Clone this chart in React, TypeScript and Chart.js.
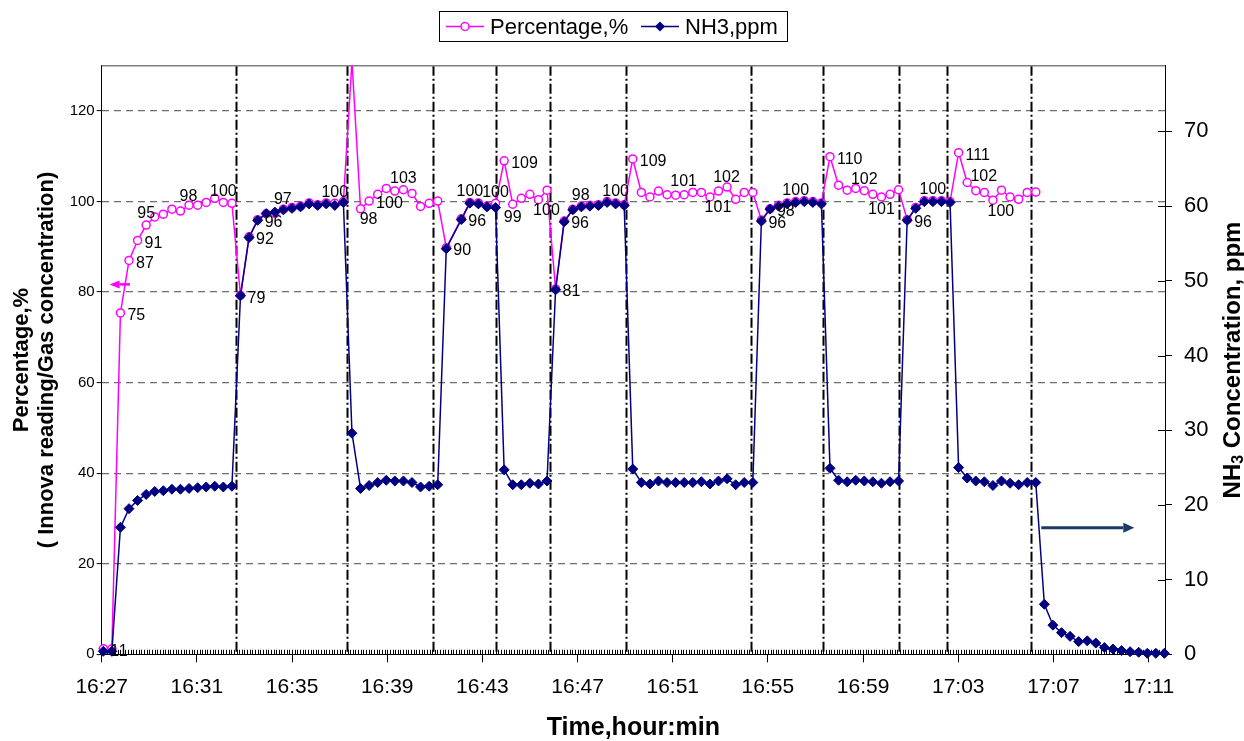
import React, { useEffect, useRef } from 'react';
import { Chart, registerables } from 'chart.js';

Chart.register(...registerables);

const FONT = '"Liberation Sans", Arial, Helvetica, sans-serif';

// ---- data ----
const X_TICK_LABELS = ['16:27', '16:31', '16:35', '16:39', '16:43', '16:47', '16:51', '16:55', '16:59', '17:03', '17:07', '17:11'];

// sampling grid (minutes after 16:27)
const SAMPLE_START_MIN = 0.067;
const SAMPLE_STEP_MIN = 0.3604;
const GAP_INDEX = 41;
const GAP_MIN = 0.269;

const PERCENTAGE: (number | null)[] = [
  1.2, 1.2, 75.4, 87.0, 91.4, 94.8, 96.6, 97.2, 98.3, 97.9, 99.2, 99.2, 99.8, 100.7, 99.8, 99.6,
  79.3, 92.2, 96.0, 97.3, 97.4, 98.3, 98.7, 99.0, 99.7, 99.3, 99.7, 99.6, 100.0,
  131.0, 98.4, 100.1, 101.6, 102.9, 102.3, 102.6, 101.8, 98.9, 99.6, 100.1,
  89.8, 96.2, 99.8, 99.7, 99.0, 99.6,
  109.0, 99.4, 100.7, 101.6, 100.4, 102.5,
  80.7, 95.7, 98.3, 99.0, 99.2, 99.3, 100.0, 99.7, 99.3,
  109.4, 102.0, 101.0, 102.3, 101.5, 101.4, 101.5, 102.0, 102.0, 101.0, 102.3, 103.2, 100.5, 102.0, 102.0,
  95.9, 98.4, 99.2, 99.7, 100.0, 100.2, 100.0, 99.7,
  109.9, 103.6, 102.5, 102.9, 102.4, 101.6, 101.0, 101.6, 102.6,
  96.0, 98.7, 100.2, 100.2, 100.2, 100.0,
  110.8, 104.2, 102.4, 102.0, 100.3, 102.5, 101.0, 100.5, 102.0, 102.1,
  null, null, null, null, null, null, null, null, null, null, null, null, null, null, null,
];

const NH3_PPM: number[] = [
  0.4, 0.4, 17.0, 19.5, 20.6, 21.4, 21.8, 21.9, 22.1, 22.1, 22.2, 22.3, 22.4, 22.5, 22.4, 22.5,
  48.0, 55.8, 58.1, 59.0, 59.2, 59.5, 59.7, 59.9, 60.3, 60.1, 60.3, 60.1, 60.5,
  29.6, 22.2, 22.6, 23.0, 23.3, 23.2, 23.2, 23.0, 22.4, 22.5, 22.7,
  54.3, 58.2, 60.4, 60.3, 59.9, 59.8,
  24.7, 22.7, 22.7, 22.9, 22.8, 23.2,
  48.8, 57.9, 59.5, 59.9, 60.0, 60.1, 60.5, 60.3, 60.1,
  24.8, 23.0, 22.8, 23.2, 23.0, 23.0, 23.0, 23.0, 23.1, 22.8, 23.2, 23.5, 22.7, 23.0, 23.0,
  58.0, 59.6, 60.0, 60.3, 60.5, 60.6, 60.5, 60.3,
  24.9, 23.3, 23.1, 23.3, 23.2, 23.1, 22.9, 23.1, 23.2,
  58.1, 59.7, 60.6, 60.6, 60.6, 60.5,
  25.0, 23.6, 23.2, 23.1, 22.6, 23.2, 22.9, 22.7, 23.0, 23.0,
  6.7, 3.9, 2.9, 2.4, 1.7, 1.8, 1.5, 0.9, 0.7, 0.5, 0.35, 0.27, 0.13, 0.13, 0.13,
];

// times of the gas switch events (minutes after 16:27)
const EVENT_TIMES_MIN = [5.64, 10.31, 13.93, 16.59, 18.83, 22.05, 27.27, 30.31, 33.53, 35.53, 39.06];

// which percentage points carry a value label, and where
const PCT_LABELS: [number, string][] = [
  [0, 'r'], [1, 'r'], [2, 'r'], [3, 'r'], [4, 'r'], [5, 't'], [9, 'tr'], [14, 't'],
  [16, 'r'], [17, 'r'], [18, 'r'], [20, 'tr'], [27, 't'],
  [30, 'br'], [31, 'r'], [35, 't'],
  [40, 'r'], [41, 'r'], [42, 't'], [45, 't'],
  [46, 'r'], [47, 'b'], [50, 'br'],
  [52, 'r'], [53, 'r'], [54, 'tr'], [59, 't'],
  [61, 'r'], [66, 'tr'], [70, 'br'], [71, 'tr'],
  [76, 'r'], [77, 'r'], [80, 't'],
  [84, 'r'], [88, 't'], [90, 'b'],
  [93, 'r'], [96, 't'],
  [99, 'r'], [101, 'tr'], [103, 'br'],
];

// ---- layout / style ----
const W = 1244;
const H = 741;
const AREA = { left: 101.7, right: 1165, top: 65.7, bottom: 654.3 };
const X_MAX = 44.69;
const Y_MAX = 130;
const Y1_MAX = 78.8;
const PINK = '#ff00ff';
const NAVY = '#000080';
const ARROW_BLUE = '#1b3a66';

const LABEL_POS: Record<string, { dx: number; dy: number; align: CanvasTextAlign }> = {
  r: { dx: 7, dy: 3, align: 'left' },
  t: { dx: 0, dy: -11, align: 'center' },
  b: { dx: 0, dy: 13, align: 'center' },
  tr: { dx: 8, dy: -14, align: 'center' },
  br: { dx: 8, dy: 11, align: 'center' },
};

function sampleTime(i: number): number {
  return SAMPLE_START_MIN + i * SAMPLE_STEP_MIN + (i >= GAP_INDEX ? GAP_MIN : 0);
}

function arrow(ctx: CanvasRenderingContext2D, x1: number, y: number, x2: number, color: string, lw: number, headLen: number, headHalf: number) {
  const dir = Math.sign(x2 - x1);
  ctx.save();
  ctx.strokeStyle = color;
  ctx.fillStyle = color;
  ctx.lineWidth = lw;
  ctx.beginPath();
  ctx.moveTo(x1, y);
  ctx.lineTo(x2 - dir * headLen, y);
  ctx.stroke();
  ctx.beginPath();
  ctx.moveTo(x2, y);
  ctx.lineTo(x2 - dir * headLen, y - headHalf);
  ctx.lineTo(x2 - dir * headLen, y + headHalf);
  ctx.closePath();
  ctx.fill();
  ctx.restore();
}

const decorPlugin = {
  id: 'decor',
  beforeDatasetsDraw(chart: any) {
    const { ctx, chartArea, scales } = chart;
    const xs = scales.x;
    ctx.save();
    // event lines (dash-dot)
    ctx.strokeStyle = '#000';
    ctx.lineWidth = 2;
    ctx.setLineDash([10, 3, 2, 3]);
    EVENT_TIMES_MIN.forEach((t) => {
      const x = Math.round(xs.getPixelForValue(t)) + 0.5;
      ctx.beginPath();
      ctx.moveTo(x, chartArea.top);
      ctx.lineTo(x, chartArea.bottom);
      ctx.stroke();
    });
    ctx.setLineDash([]);
    // top border
    ctx.strokeStyle = '#808080';
    ctx.lineWidth = 1.5;
    ctx.beginPath();
    ctx.moveTo(chartArea.left, chartArea.top);
    ctx.lineTo(chartArea.right, chartArea.top);
    ctx.stroke();
    // minor x ticks (inside)
    ctx.strokeStyle = '#000';
    ctx.lineWidth = 1;
    const minorStep = 4 / 36;
    for (let k = 0; k * minorStep <= X_MAX + 1e-9; k++) {
      const x = Math.round(xs.getPixelForValue(k * minorStep)) + 0.5;
      ctx.beginPath();
      ctx.moveTo(x, chartArea.bottom);
      ctx.lineTo(x, chartArea.bottom - 4.5);
      ctx.stroke();
    }
    // inner half of right axis cross ticks
    const y1 = scales.y1;
    for (let v = 0; v <= 70; v += 10) {
      const y = Math.round(y1.getPixelForValue(v)) + 0.5;
      ctx.beginPath();
      ctx.moveTo(chartArea.right - 7, y);
      ctx.lineTo(chartArea.right, y);
      ctx.stroke();
    }
    ctx.restore();
  },
  afterDatasetsDraw(chart: any) {
    const { ctx, scales } = chart;
    const meta = chart.getDatasetMeta(0);
    ctx.save();
    ctx.font = `16px ${FONT}`;
    ctx.fillStyle = '#000';
    ctx.textBaseline = 'middle';
    PCT_LABELS.forEach(([i, pos]) => {
      const v = PERCENTAGE[i];
      const el = meta.data[i];
      if (v === null || !el) return;
      const p = LABEL_POS[pos];
      ctx.textAlign = p.align;
      ctx.fillText(String(Math.round(v)), el.x + p.dx, el.y + p.dy);
    });
    ctx.restore();

    // arrows pointing to the axis each series belongs to
    const xs = scales.x;
    arrow(ctx, xs.getPixelForValue(1.19), scales.y.getPixelForValue(81.7), xs.getPixelForValue(0.33), PINK, 2.5, 10, 4);
    arrow(ctx, xs.getPixelForValue(39.49), scales.y1.getPixelForValue(16.95), xs.getPixelForValue(43.4), ARROW_BLUE, 3, 11, 5);
  },
  afterDraw(chart: any) {
    const { ctx, chartArea } = chart;
    const cy = (chartArea.top + chartArea.bottom) / 2;
    ctx.save();
    ctx.fillStyle = '#000';
    ctx.textBaseline = 'middle';
    ctx.textAlign = 'center';
    // left title (two lines)
    ctx.font = `bold 22px ${FONT}`;
    [['Percentage,%', 22], ['( Innova reading/Gas concentration)', 47]].forEach(([txt, x]) => {
      ctx.save();
      ctx.translate(x as number, cy);
      ctx.rotate(-Math.PI / 2);
      ctx.fillText(txt as string, 0, 0);
      ctx.restore();
    });
    // right title with subscript
    {
      const main = `bold 24px ${FONT}`;
      const sub = `bold 16px ${FONT}`;
      ctx.font = main;
      const w1 = ctx.measureText('NH').width;
      const w3 = ctx.measureText(' Concentration, ppm').width;
      ctx.font = sub;
      const w2 = ctx.measureText('3').width;
      const total = w1 + w2 + w3;
      ctx.save();
      ctx.translate(1233, cy);
      ctx.rotate(-Math.PI / 2);
      ctx.textAlign = 'left';
      let x = -total / 2;
      ctx.font = main;
      ctx.fillText('NH', x, 0);
      x += w1;
      ctx.font = sub;
      ctx.fillText('3', x, 6);
      x += w2;
      ctx.font = main;
      ctx.fillText(' Concentration, ppm', x, 0);
      ctx.restore();
    }
    // x title
    ctx.font = `bold 25px ${FONT}`;
    ctx.textAlign = 'center';
    ctx.fillText('Time,hour:min', (chartArea.left + chartArea.right) / 2, 728);

    // legend
    ctx.strokeStyle = '#000';
    ctx.lineWidth = 1;
    ctx.strokeRect(439.5, 11.5, 348, 30);
    const ly = 26.5;
    ctx.lineWidth = 1.5;
    ctx.strokeStyle = PINK;
    ctx.beginPath();
    ctx.moveTo(446, ly);
    ctx.lineTo(484, ly);
    ctx.stroke();
    ctx.beginPath();
    ctx.arc(465, ly, 4, 0, Math.PI * 2);
    ctx.fillStyle = '#fff';
    ctx.fill();
    ctx.stroke();
    ctx.strokeStyle = NAVY;
    ctx.fillStyle = NAVY;
    ctx.beginPath();
    ctx.moveTo(641, ly);
    ctx.lineTo(679, ly);
    ctx.stroke();
    ctx.beginPath();
    ctx.moveTo(660, ly - 5);
    ctx.lineTo(665, ly);
    ctx.lineTo(660, ly + 5);
    ctx.lineTo(655, ly);
    ctx.closePath();
    ctx.fill();
    ctx.fillStyle = '#000';
    ctx.font = `22px ${FONT}`;
    ctx.textAlign = 'left';
    ctx.fillText(chart.data.datasets[0].label, 490, ly + 1);
    ctx.fillText(chart.data.datasets[1].label, 685, ly + 1);
    ctx.restore();
  },
};

export default function App() {
  const canvasRef = useRef<HTMLCanvasElement | null>(null);

  useEffect(() => {
    document.body.style.margin = '0';
    const canvas = canvasRef.current;
    if (!canvas) return;

    const pctData = PERCENTAGE.map((v, i) => ({ x: sampleTime(i), y: v }));
    const nh3Data = NH3_PPM.map((v, i) => ({ x: sampleTime(i), y: v }));

    const chart = new Chart(canvas, {
      type: 'line',
      data: {
        datasets: [
          {
            label: 'Percentage,%',
            data: pctData as any,
            yAxisID: 'y',
            borderColor: PINK,
            backgroundColor: '#ffffff',
            borderWidth: 1.5,
            pointStyle: 'circle',
            pointRadius: 4,
            pointBorderWidth: 1.5,
            pointBackgroundColor: '#ffffff',
            pointBorderColor: PINK,
            tension: 0,
            spanGaps: false,
            order: 2,
            clip: { left: 10, right: 10, top: 0, bottom: 10 } as any,
          },
          {
            label: 'NH3,ppm',
            data: nh3Data as any,
            yAxisID: 'y1',
            borderColor: NAVY,
            backgroundColor: NAVY,
            borderWidth: 1.5,
            pointStyle: 'rectRot',
            pointRadius: 5,
            pointBorderWidth: 1,
            pointBackgroundColor: NAVY,
            pointBorderColor: NAVY,
            tension: 0,
            order: 1,
            clip: 10 as any,
          },
        ],
      },
      options: {
        responsive: false,
        animation: false,
        events: [],
        layout: { padding: { left: 0, right: 0, top: AREA.top, bottom: 0 } },
        plugins: {
          legend: { display: false },
          tooltip: { enabled: false },
          title: { display: false },
        },
        scales: {
          x: {
            type: 'linear',
            min: 0,
            max: X_MAX,
            afterFit: (s: any) => { s.height = H - AREA.bottom; },
            ticks: {
              stepSize: 4,
              includeBounds: false,
              autoSkip: false,
              maxRotation: 0,
              minRotation: 0,
              padding: 12,
              color: '#000',
              font: { family: FONT, size: 21 },
              callback: (v: any) => X_TICK_LABELS[Math.round(Number(v) / 4)] ?? '',
            },
            grid: { drawOnChartArea: false, drawTicks: true, tickLength: 8, tickColor: '#000', tickWidth: 1 },
            border: { color: '#000', width: 1 },
          },
          y: {
            type: 'linear',
            position: 'left',
            min: 0,
            max: Y_MAX,
            afterFit: (s: any) => { s.width = AREA.left; },
            ticks: { stepSize: 20, includeBounds: false, padding: 2, color: '#000', font: { family: FONT, size: 15 } },
            grid: {
              color: (c: any) => (c.tick && c.tick.value === 0 ? 'rgba(0,0,0,0)' : '#6e6e6e'),
              lineWidth: 1.2,
              drawTicks: true,
              tickLength: 5,
              tickColor: '#000',
              tickWidth: 1,
            },
            border: { color: '#000', width: 1, dash: [7, 5] },
          },
          y1: {
            type: 'linear',
            position: 'right',
            min: 0,
            max: Y1_MAX,
            afterFit: (s: any) => { s.width = W - AREA.right; },
            ticks: { stepSize: 10, includeBounds: false, padding: 12, color: '#000', font: { family: FONT, size: 22 } },
            grid: { drawOnChartArea: false, drawTicks: true, tickLength: 7, tickColor: '#000', tickWidth: 1 },
            border: { color: '#000', width: 1 },
          },
        },
      },
      plugins: [decorPlugin],
    });

    return () => chart.destroy();
  }, []);

  return (
    <div style={{ width: W, height: H, position: 'relative', background: '#fff' }}>
      <canvas ref={canvasRef} width={W} height={H} style={{ width: W, height: H, display: 'block' }} />
    </div>
  );
}
